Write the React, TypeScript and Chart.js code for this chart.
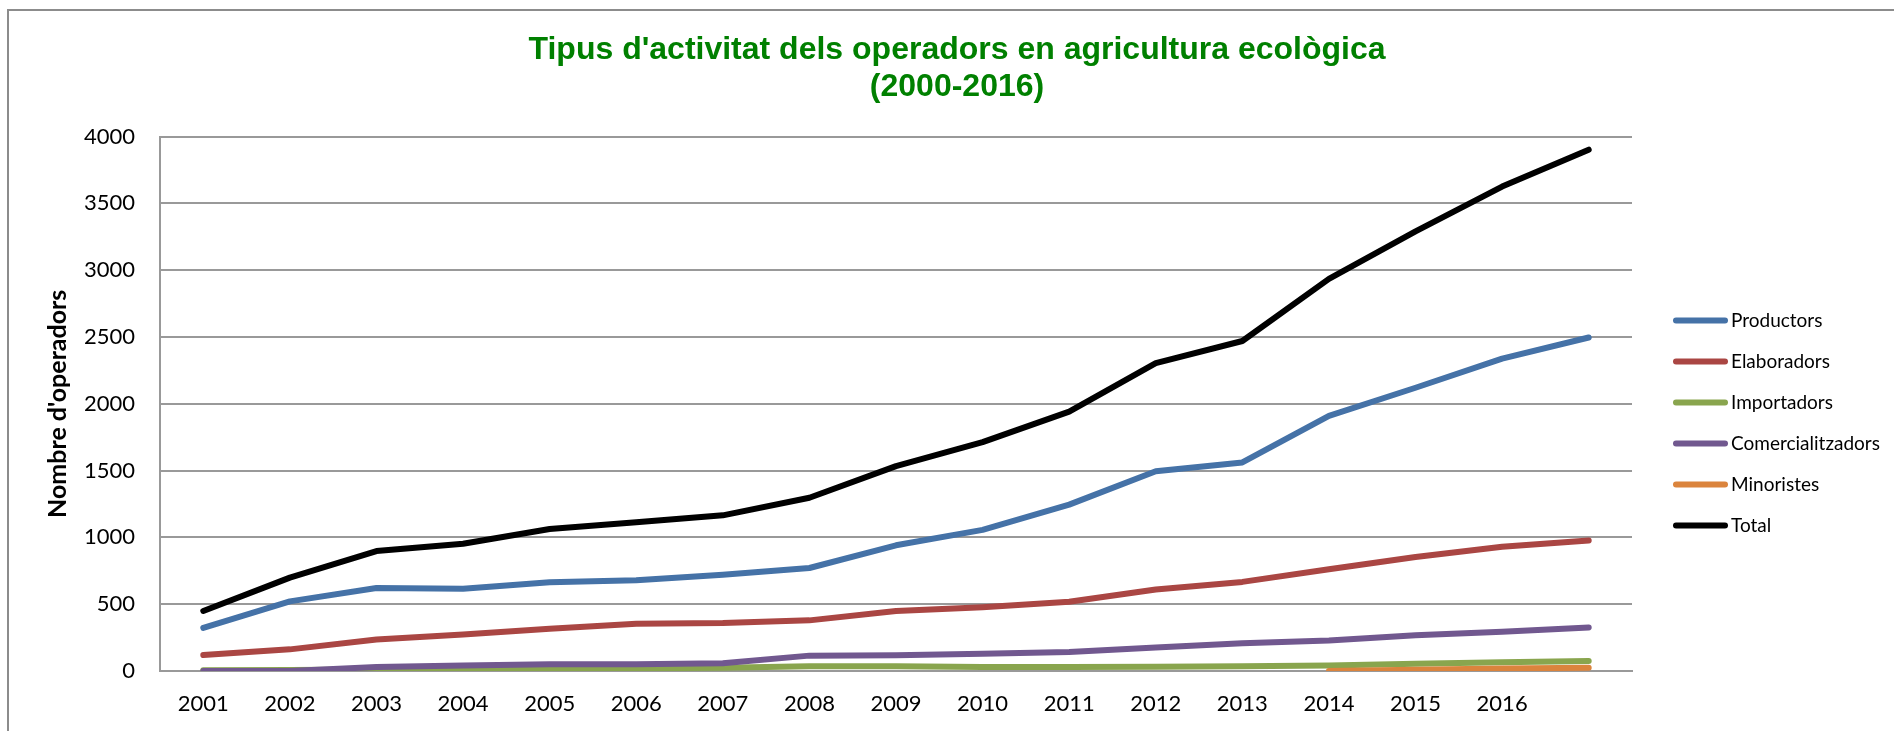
import React, { useEffect, useRef } from "react";
import { Chart, registerables } from "chart.js";

Chart.register(...registerables);

const yearLabels = ["2001", "2002", "2003", "2004", "2005", "2006", "2007", "2008", "2009", "2010", "2011", "2012", "2013", "2014", "2015", "2016", ""];
const productors = [322, 521, 621, 616, 664, 679, 721, 771, 941, 1056, 1245, 1495, 1561, 1910, 2120, 2338, 2496];
const elaboradors = [120, 162, 235, 274, 317, 354, 359, 379, 449, 478, 518, 610, 667, 762, 854, 930, 977];
const importadors = [5, 8, 12, 15, 18, 20, 25, 35, 35, 30, 30, 32, 35, 42, 55, 65, 75];
const comercialitzadors = [0, 0, 30, 42, 50, 50, 58, 115, 117, 129, 142, 176, 208, 229, 268, 294, 326];
const minoristes = [null, null, null, null, null, null, null, null, null, null, null, null, null, 0, 10, 18, 25];
const total = [449, 699, 898, 953, 1063, 1113, 1165, 1297, 1534, 1713, 1942, 2304, 2470, 2935, 3290, 3626, 3902];

const seriesNames = ["Productors", "Elaboradors", "Importadors", "Comercialitzadors", "Minoristes", "Total"];
const seriesColors = ["#4572A7", "#AA4643", "#89A54E", "#71588F", "#DB843D", "#000000"];
const yTicks = [0, 500, 1000, 1500, 2000, 2500, 3000, 3500, 4000];

const titleLines = ["Tipus d'activitat dels operadors en agricultura ecològica", "(2000-2016)"];
const yTitle = "Nombre d'operadors";

const sideLegend = {
  id: "sideLegend",
  afterDraw(chart: any) {
    const ctx = chart.ctx;
    ctx.save();
    chart.data.datasets.forEach((ds: any, i: number) => {
      const y = 320.5 + 41 * i;
      ctx.beginPath();
      ctx.lineCap = "round";
      ctx.lineWidth = 6;
      ctx.strokeStyle = ds.borderColor;
      ctx.moveTo(1676, y);
      ctx.lineTo(1725, y);
      ctx.stroke();
      ctx.fillStyle = "#000";
      ctx.font = "19px Lato";
      ctx.textBaseline = "middle";
      ctx.textAlign = "left";
      ctx.fillText(ds.label, 1731, y);
    });
    ctx.restore();
  },
};

export default function App() {
  const ref = useRef<HTMLCanvasElement | null>(null);

  useEffect(() => {
    if (!ref.current) return;
    const seriesData = [productors, elaboradors, importadors, comercialitzadors, minoristes, total];
    const chart = new Chart(ref.current, {
      type: "line",
      data: {
        labels: yearLabels,
        datasets: seriesData.map((d, i) => ({
          label: seriesNames[i],
          data: d,
          borderColor: seriesColors[i],
          backgroundColor: seriesColors[i],
          borderWidth: 6,
          pointRadius: 0,
          tension: 0,
          borderCapStyle: "round",
          borderJoinStyle: "round",
          spanGaps: false,
          order: seriesData.length - i,
        })) as any,
      },
      options: {
        responsive: false,
        animation: false,
        devicePixelRatio: 1,
        layout: { padding: { left: 20, right: 0, top: 0, bottom: 0 } },
        plugins: {
          legend: { display: false },
          tooltip: { enabled: false },
          title: {
            display: true,
            text: titleLines,
            color: "#008000",
            font: { family: "'Liberation Sans', Arial, sans-serif", size: 32, weight: "bold", lineHeight: 1.15 },
            padding: { top: 32, bottom: 31 },
          },
        },
        scales: {
          x: {
            type: "category",
            offset: true,
            grid: { display: false, drawTicks: false },
            border: { display: true, color: "#999999", width: 2 },
            ticks: {
              color: "#000",
              font: { family: "Lato", size: 22 },
              padding: 20,
              autoSkip: false,
              maxRotation: 0,
            },
            afterFit: (s: any) => {
              s.height = 60;
            },
          },
          y: {
            min: 0,
            max: 4000,
            afterBuildTicks: (s: any) => {
              s.ticks = yTicks.map((v) => ({ value: v }));
            },
            grid: { color: "#999999", lineWidth: 2, drawTicks: false },
            border: { display: true, color: "#999999", width: 2 },
            ticks: {
              color: "#000",
              font: { family: "Lato", size: 22 },
              padding: 25,
              callback: (v: any) => String(v),
            },
            title: {
              display: true,
              text: yTitle,
              color: "#000",
              font: { family: "Lato", size: 25, weight: "bold" },
              padding: { top: 23, bottom: 0 },
            },
            afterFit: (s: any) => {
              s.width = 140;
            },
          },
          legendSpace: {
            type: "linear",
            position: "right",
            display: true,
            grid: { display: false, drawTicks: false },
            border: { display: false },
            ticks: { display: false },
            afterFit: (s: any) => {
              s.width = 262;
            },
          },
        },
      },
      plugins: [sideLegend],
    });
    return () => chart.destroy();
  }, []);

  return (
    <div style={{ position: "fixed", left: 0, top: 0, width: 1894, height: 731, overflow: "hidden", background: "#fff" }}>
      <canvas ref={ref} width={1894} height={731} style={{ position: "absolute", left: 0, top: 0, width: 1894, height: 731 }} />
      <div
        style={{
          position: "absolute",
          left: 7,
          top: 9,
          width: 2000,
          height: 1000,
          borderTop: "2px solid #8c8c8c",
          borderLeft: "2px solid #8c8c8c",
          pointerEvents: "none",
        }}
      />
    </div>
  );
}
